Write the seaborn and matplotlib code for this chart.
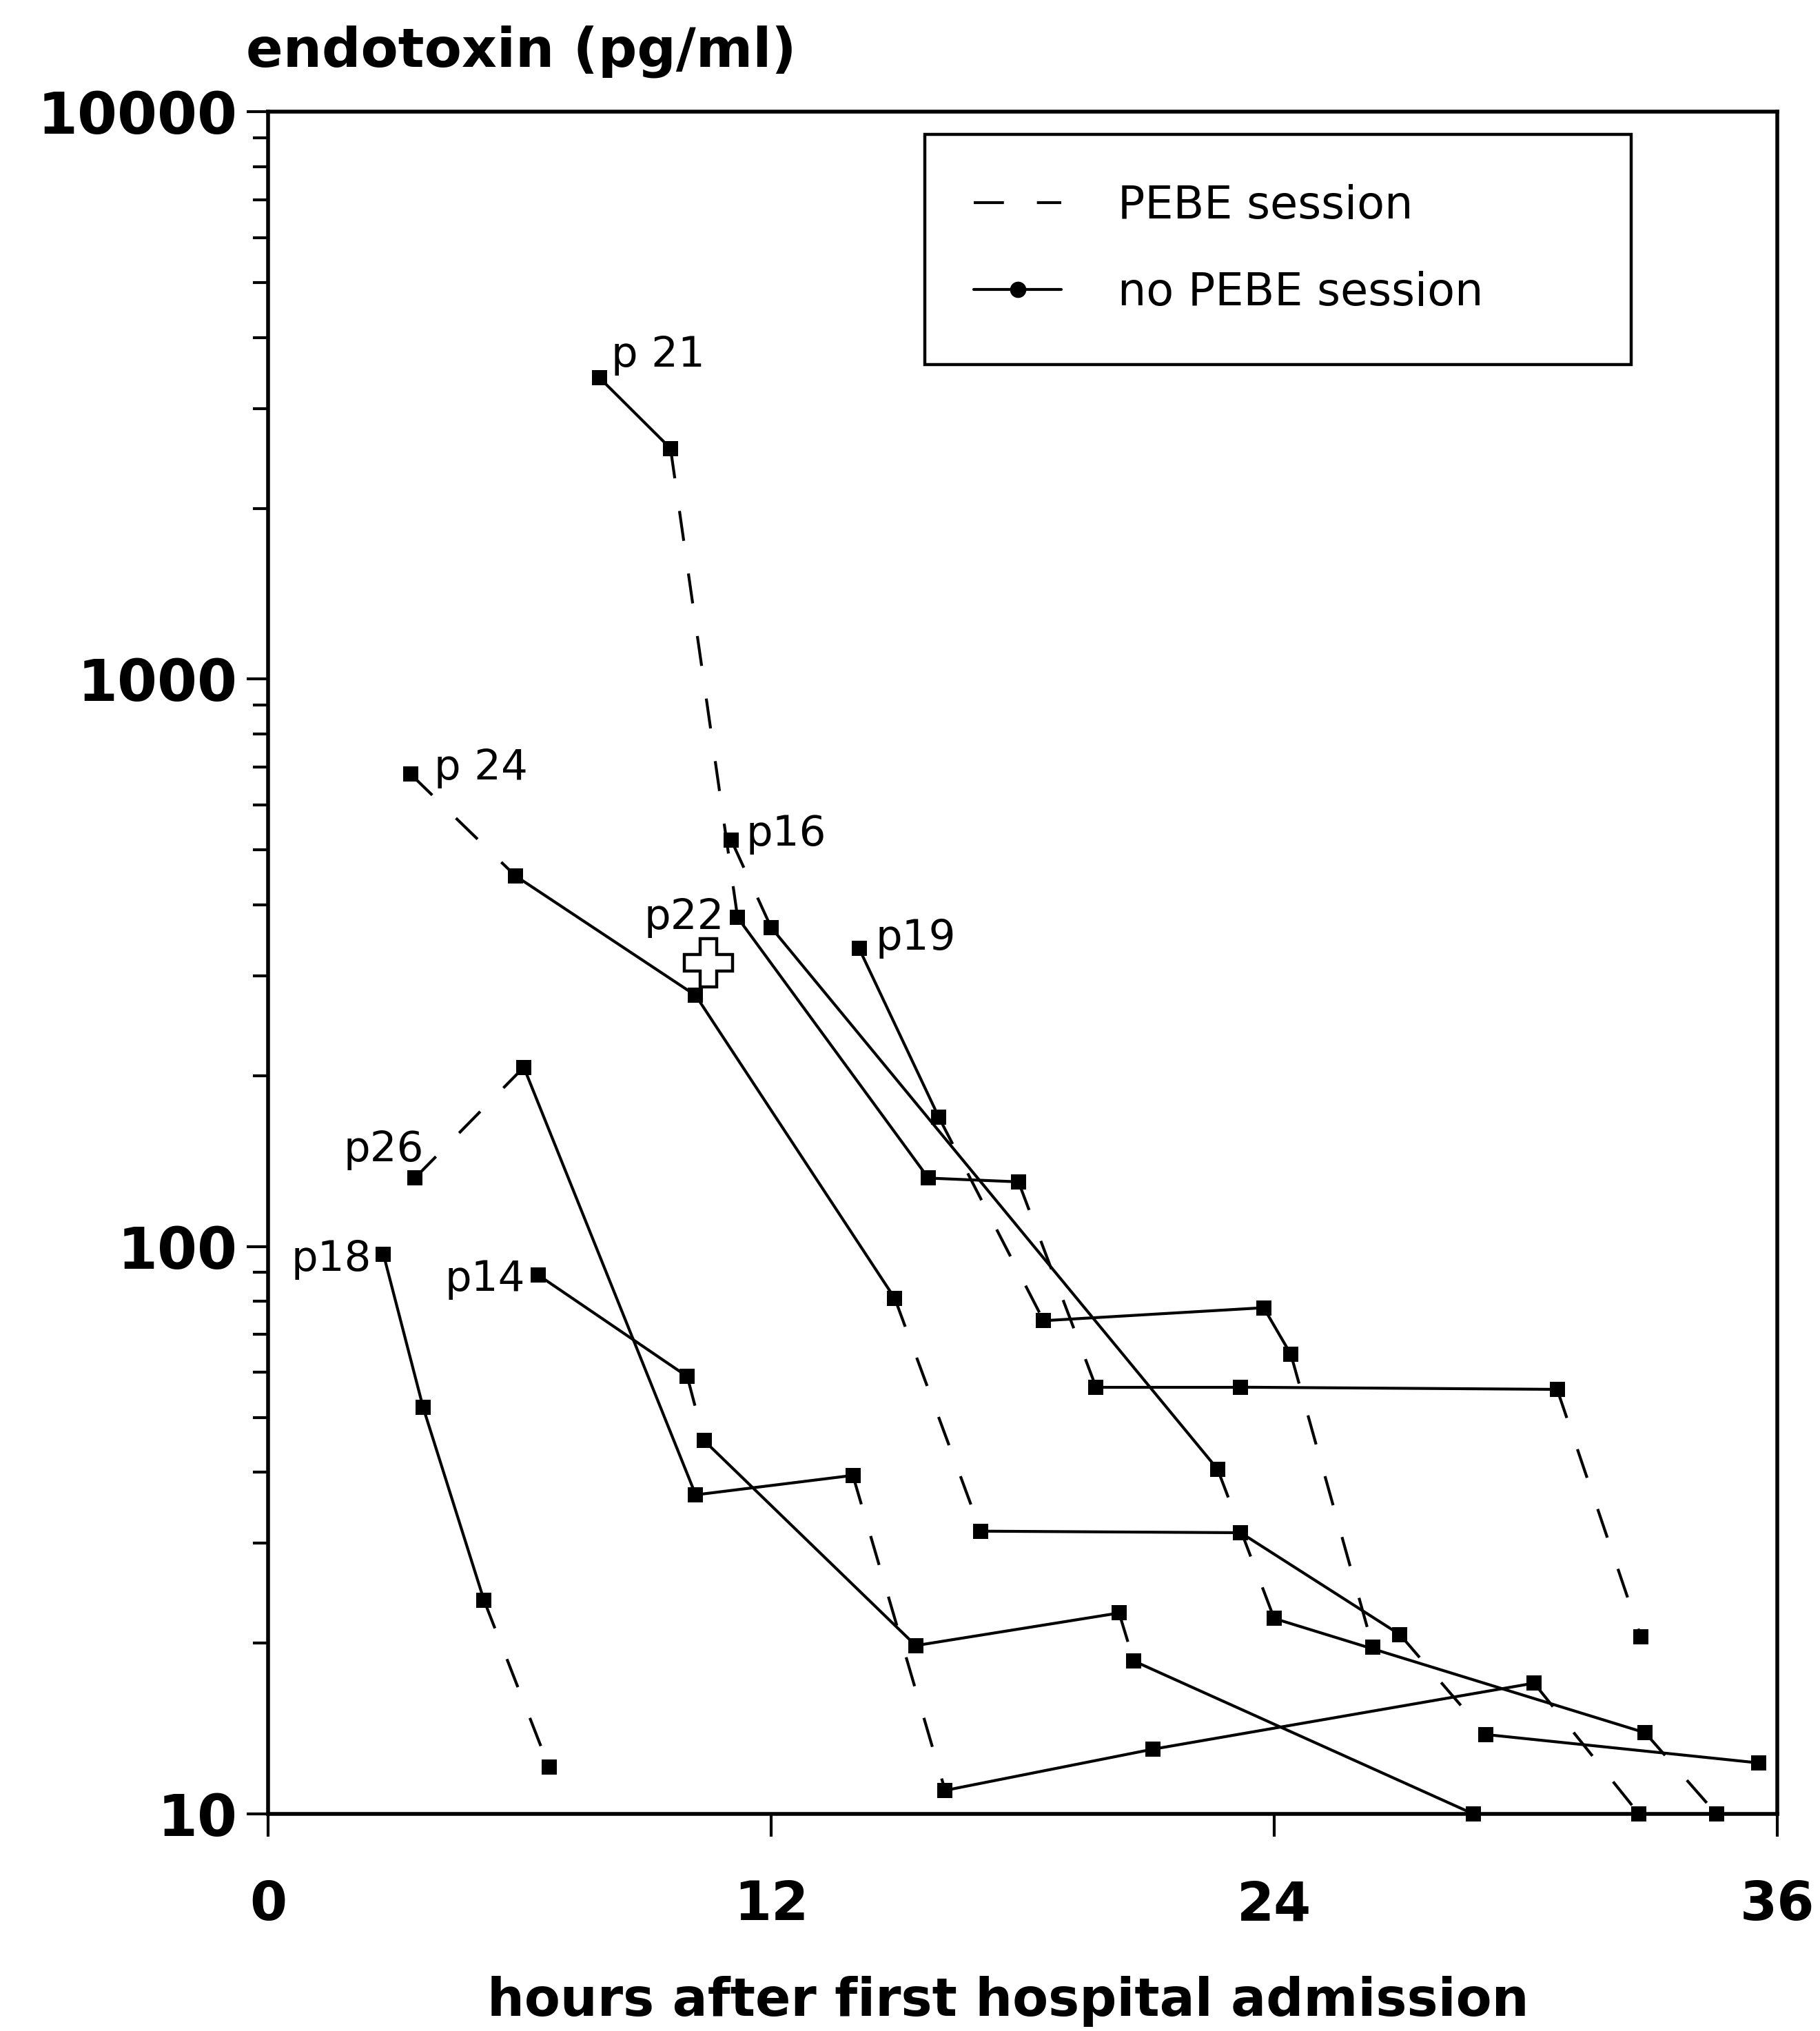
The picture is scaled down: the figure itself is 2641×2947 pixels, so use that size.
import matplotlib
matplotlib.use("Agg")
import numpy as np
import pandas as pd
import matplotlib.pyplot as plt
import seaborn as sns
from matplotlib.lines import Line2D
from matplotlib.ticker import FixedLocator, LogLocator, NullFormatter

# hours after first admission, endotoxin (pg/ml), and 1 where the step
# between two samples contains a PEBE session (dashed in the figure)
p18_h = [2.75, 3.7, 5.15, 6.7]
p18_v = [97, 52, 23.8, 12.1]
p18_pebe = [0, 0, 1]

p26_h = [3.5, 6.1, 10.2, 13.95, 16.15, 21.1, 30.2, 32.7]
p26_v = [132, 207, 36.5, 39.5, 11.0, 13.0, 17.0, 10]
p26_pebe = [1, 0, 0, 1, 0, 0, 1]

p14_h = [6.45, 10.0, 10.4, 15.45, 20.3, 20.65, 28.75]
p14_v = [89, 59, 45.5, 19.8, 22.6, 18.6, 10]
p14_pebe = [0, 1, 0, 0, 1, 0]

p24_h = [3.4, 5.9, 10.2, 14.95, 17.0, 23.2, 27.0, 29.05, 35.55]
p24_v = [680, 450, 277, 81, 31.5, 31.3, 20.7, 13.8, 12.3]
p24_pebe = [1, 0, 0, 1, 0, 0, 1, 0]

p21_h = [7.9, 9.6, 11.2, 15.75, 17.9, 19.75, 23.2, 30.75, 32.75]
p21_v = [3400, 2550, 380, 132, 130, 56.5, 56.5, 56, 20.5]
p21_pebe = [0, 1, 0, 0, 1, 0, 0, 1]

p16_h = [11.05, 12.0, 22.65, 24.0, 32.85, 34.55]
p16_v = [520, 365, 40.5, 22.1, 13.9, 10]
p16_pebe = [1, 0, 1, 0, 1]

p19_h = [14.1, 16.0, 18.5, 23.75, 24.4, 26.35]
p19_v = [335, 169, 74, 78, 64.5, 19.7]
p19_pebe = [0, 1, 0, 0, 1]

# death mark drawn next to p22
death_h, death_v = 10.5, 316

patients = {
    "p18": (p18_h, p18_v, p18_pebe),
    "p26": (p26_h, p26_v, p26_pebe),
    "p14": (p14_h, p14_v, p14_pebe),
    "p24": (p24_h, p24_v, p24_pebe),
    "p21": (p21_h, p21_v, p21_pebe),
    "p16": (p16_h, p16_v, p16_pebe),
    "p19": (p19_h, p19_v, p19_pebe),
}

# label text, patient, sample index, offset in pixels, alignment
labels = [
    ("p 21", "p21", 0, 17, 32, "left"),
    ("p 24", "p24", 0, 34, 9, "left"),
    ("p16", "p16", 0, 21, 9, "left"),
    ("p22", "p21", 2, -19, 0, "right"),
    ("p19", "p19", 0, 24, 15, "left"),
    ("p26", "p26", 0, 13, 41, "right"),
    ("p18", "p18", 0, -17, -8, "right"),
    ("p14", "p14", 0, -19, -6, "right"),
]

seg_rows = []
pt_rows = []
for name, (h, v, pebe) in patients.items():
    for i, s in enumerate(pebe):
        sess = "PEBE session" if s else "no PEBE session"
        for j in (i, i + 1):
            seg_rows.append(dict(seg=f"{name}-{i}", hours=h[j], endotoxin=v[j], session=sess))
    for hh, vv in zip(h, v):
        pt_rows.append(dict(patient=name, hours=hh, endotoxin=vv))
seg = pd.DataFrame(seg_rows)
pts = pd.DataFrame(pt_rows)

sns.set_style("ticks")
plt.rcParams["font.family"] = ["DejaVu Sans"]
plt.rcParams["text.color"] = "black"
plt.rcParams["xtick.color"] = "black"
plt.rcParams["ytick.color"] = "black"

fig, ax = plt.subplots(figsize=(26.41, 29.47), dpi=100)
fig.subplots_adjust(left=0.1473, right=0.9765, bottom=0.1069, top=0.945)
ax.set_yscale("log")

lw = 3.0
pebe_dash = (10.5, 11.5)
sns.lineplot(
    data=seg, x="hours", y="endotoxin", units="seg", estimator=None,
    style="session", dashes={"no PEBE session": "", "PEBE session": pebe_dash},
    color="black", linewidth=lw, sort=False, legend=False, ax=ax,
)
sns.scatterplot(
    data=pts, x="hours", y="endotoxin", marker="s", s=230, color="black",
    edgecolor="black", linewidth=0, zorder=4, clip_on=False, legend=False, ax=ax,
)
ax.plot(death_h, death_v, marker="P", ms=50, mfc="white", mec="black", mew=3.2, zorder=5)

for text, name, idx, dx, dy, ha in labels:
    h, v, _ = patients[name]
    ax.annotate(text, xy=(h[idx], v[idx]), xytext=(dx, dy), textcoords="offset pixels",
                ha=ha, va="center", fontsize=44)

ax.set_xlim(0, 36)
ax.set_ylim(10, 10000)
ax.xaxis.set_major_locator(FixedLocator([0, 12, 24, 36]))
ax.set_xticklabels(["0", "12", "24", "36"], fontweight="bold")
ax.yaxis.set_major_locator(FixedLocator([10, 100, 1000, 10000]))
ax.set_yticklabels(["10", "100", "1000", "10000"], fontweight="bold")
ax.yaxis.set_minor_locator(LogLocator(base=10, subs=np.arange(2, 10)))
ax.yaxis.set_minor_formatter(NullFormatter())
ax.tick_params(axis="x", which="major", direction="out", length=24, width=3, pad=44, labelsize=56)
ax.tick_params(axis="x", which="minor", bottom=False)
ax.tick_params(axis="y", which="major", direction="out", length=22, width=3, pad=10, labelsize=60)
ax.tick_params(axis="y", which="minor", direction="out", length=16, width=3)
for sp in ax.spines.values():
    sp.set_visible(True)
    sp.set_linewidth(4)
    sp.set_color("black")
ax.set_xlabel("")
ax.set_ylabel("")

handles = [
    Line2D([], [], color="black", lw=lw, dashes=pebe_dash),
    Line2D([], [], color="black", lw=lw, marker="o", ms=16),
]
leg = ax.legend(
    handles, ["PEBE session", "no PEBE session"], loc="upper left",
    bbox_to_anchor=(0.435, 0.70, 0.468, 0.2866), mode="expand", borderaxespad=0,
    fontsize=47, handlelength=1.94, handletextpad=1.25, labelspacing=0.95,
    borderpad=1.1, fancybox=False, framealpha=1, edgecolor="black",
)
leg.get_frame().set_linewidth(3.2)

fig.text(357 / 2641, 1 - 75 / 2947, "endotoxin (pg/ml)", ha="left", va="center",
         fontsize=57, fontweight="bold")
fig.text(0.5538, 0.0146, "hours after first hospital admission", ha="center", va="center",
         fontsize=54.5, fontweight="bold")

fig.savefig("out.png", dpi=100, facecolor="white")
